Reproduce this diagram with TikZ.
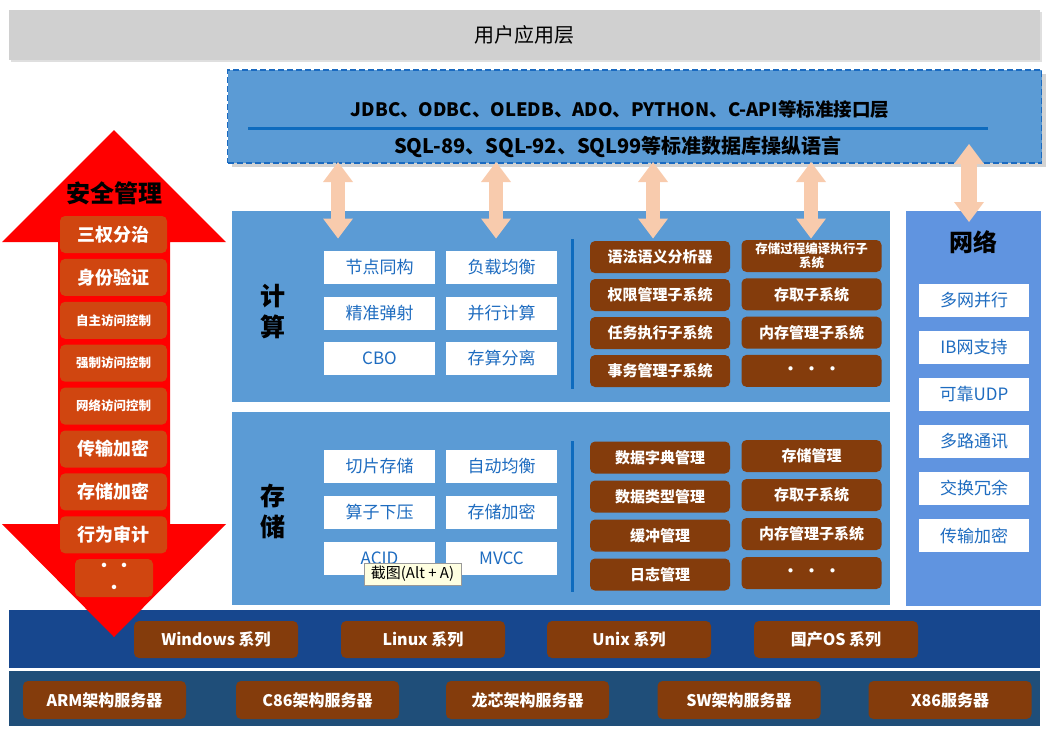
\documentclass[tikz,border=0pt]{standalone}
\usepackage{fontspec}
\setmainfont{Noto Sans CJK SC}
\usetikzlibrary{arrows.meta,shadows}

\definecolor{topgray}{HTML}{D0D0D0}
\definecolor{panelblue}{HTML}{5B9BD5}
\definecolor{netblue}{HTML}{6094E0}
\definecolor{dashblue}{HTML}{1A6AC0}
\definecolor{rulerblue}{HTML}{0E6BBE}
\definecolor{linkblue}{HTML}{1E6CC0}
\definecolor{brownbox}{HTML}{843C0C}
\definecolor{orangebox}{HTML}{D04610}
\definecolor{osblue}{HTML}{17478E}
\definecolor{hwblue}{HTML}{1F4E79}
\definecolor{peach}{HTML}{F8CBAD}
\definecolor{tipyellow}{HTML}{FFFFE1}

\tikzset{
  layer/.style={inner sep=0pt, minimum width=1031pt},
  panel/.style={fill=panelblue, inner sep=0pt, minimum width=658pt},
  apitext/.style={font=\bfseries\fontsize{18.5}{20}\selectfont},
  bigtitle/.style={font=\bfseries\fontsize{25}{31}\selectfont, align=center},
  wbox/.style={fill=white, text=linkblue, inner sep=0pt, minimum width=111pt, minimum height=33pt, font=\fontsize{17}{19}\selectfont},
  bbox/.style={fill=brownbox, text=white, rounded corners=5pt, inner sep=0pt, minimum width=140pt, minimum height=32pt, font=\bfseries\fontsize{15}{17}\selectfont},
  obox/.style={fill=orangebox, text=white, rounded corners=5pt, inner sep=0pt, minimum width=107pt, minimum height=37pt, font=\bfseries\fontsize{18}{20}\selectfont},
  osbox/.style={fill=brownbox, text=white, rounded corners=5pt, inner sep=0pt, minimum width=164pt, minimum height=37pt, font=\bfseries\fontsize{16}{18}\selectfont},
  darr/.style={draw=peach, line width=14pt, arrows={Triangle[width=30pt,length=20pt,line width'=0pt]-Triangle[width=30pt,length=20pt,line width'=0pt]}}
}

\begin{document}
\begin{tikzpicture}[x=1pt,y=-1pt]
\useasboundingbox (0,0) rectangle (1051,736);

% user layer and interface layer
\node[layer, fill=topgray, minimum height=50pt, font=\fontsize{20}{22}\selectfont,
  drop shadow={shadow xshift=2pt,shadow yshift=-2pt,opacity=0.25}] (app) at (524.5,35) {用户应用层};
\node[fill=panelblue, draw=dashblue, line width=1.6pt, dash pattern=on 6pt off 3pt, inner sep=0pt,
  minimum width=814pt, minimum height=93pt,
  drop shadow={shadow xshift=4pt,shadow yshift=-4pt,opacity=0.35}] (api) at (634.5,116.5) {};
\node[apitext] (jdbc) at (620,109) {JDBC、ODBC、OLEDB、ADO、PYTHON、C-API等标准接口层};
\node[apitext, font=\bfseries\fontsize{20}{22}\selectfont] (sql) at (618,147) {SQL-89、SQL-92、SQL99等标准数据库操纵语言};
\draw[rulerblue, line width=3pt] (248,128) -- (988,128);

% panels
\node[panel, minimum height=191pt] (comp) at (561,306.5) {};
\node[panel, minimum height=193pt] (stor) at (561,508.5) {};
\node[fill=netblue, inner sep=0pt, minimum width=135pt, minimum height=395pt] (net) at (973.5,408.5) {};
\node[layer, fill=osblue, minimum height=58pt] (os) at (524.5,639) {};
\node[layer, fill=hwblue, minimum height=55pt] (hw) at (524.5,698.5) {};

% compute
\node[bigtitle] (comptitle) at (273,312) {计\\算};
\foreach \a/\b [count=\i] in {节点同构/负载均衡, 精准弹射/并行计算, CBO/存算分离}{
  \node[wbox] (cwa\i) at (379.5,{267.5+45.5*(\i-1)}) {\a};
  \node[wbox] (cwb\i) at (501.5,{267.5+45.5*(\i-1)}) {\b};
}
\draw[rulerblue, line width=3pt] (572,239) -- (572,389);
\foreach \a [count=\i] in {语法语义分析器, 权限管理子系统, 任务执行子系统, 事务管理子系统}
  \node[bbox] (cba\i) at (660,{257+38*(\i-1)}) {\a};
\node[bbox, align=center, font=\bfseries\fontsize{12.5}{14}\selectfont] (cbb1) at (811.5,256) {存储过程编译执行子\\系统};
\foreach \b [count=\i from 2] in {存取子系统, 内存管理子系统, {·\hspace{6pt}·\hspace{6pt}·}}
  \node[bbox] (cbb\i) at (811.5,{256+38.3*(\i-1)}) {\b};

% storage
\node[bigtitle] (stortitle) at (273,511.5) {存\\储};
\foreach \a/\b [count=\i] in {切片存储/自动均衡, 算子下压/存储加密, ACID/MVCC}{
  \node[wbox] (swa\i) at (379.5,{466+46*(\i-1)}) {\a};
  \node[wbox] (swb\i) at (501.5,{466+46*(\i-1)}) {\b};
}
\draw[rulerblue, line width=3pt] (572,441) -- (572,592);
\foreach \a [count=\i] in {数据字典管理, 数据类型管理, 缓冲管理, 日志管理}
  \node[bbox] (sba\i) at (660,{457.5+39*(\i-1)}) {\a};
\foreach \b [count=\i] in {存储管理, 存取子系统, 内存管理子系统, {·\hspace{6pt}·\hspace{6pt}·}}
  \node[bbox] (sbb\i) at (811.5,{456+39*(\i-1)}) {\b};

% network
\node[font=\bfseries\fontsize{24}{26}\selectfont] (nettitle) at (973,242) {网络};
\foreach \a [count=\i] in {多网并行, IB网支持, 可靠UDP, 多路通讯, 交换冗余, 传输加密}
  \node[wbox, minimum width=110pt] (nw\i) at (974,{300+47.1*(\i-1)}) {\a};

% security arrow
\fill[red] (114,130) -- (226,242) -- (170,242) -- (170,524) -- (226,524) -- (114,637)
  -- (2,524) -- (58,524) -- (58,242) -- (2,242) -- cycle;
\node[font=\bfseries\fontsize{24}{26}\selectfont] (sectitle) at (114,193) {安全管理};
\foreach \a/\s [count=\i] in {三权分治/18, 身份验证/18, 自主访问控制/12.5, 强制访问控制/12.5,
    网络访问控制/12.5, 传输加密/18, 存储加密/18, 行为审计/18}
  \node[obox, font=\bfseries\fontsize{\s}{20}\selectfont] (sec\i) at (113.5,{234.5+42.9*(\i-1)}) {\a};
\node[obox, minimum width=78pt, minimum height=38pt, align=center, font=\bfseries\fontsize{16}{22}\selectfont] (secdots) at (114,578) {·\hspace{4pt}·\\·};

% operating systems
\foreach \a/\x [count=\i] in {Windows 系列/216, Linux 系列/423, Unix 系列/629, 国产OS 系列/836}
  \node[osbox] (os\i) at (\x,639.5) {\a};

% servers
\foreach \a/\x [count=\i] in {ARM架构服务器/104.5, C86架构服务器/317.5, 龙芯架构服务器/527.5, SW架构服务器/739, X86服务器/950}
  \node[osbox, minimum width=163pt, minimum height=38pt] (hw\i) at (\x,700) {\a};

% links between layers
\foreach \x [count=\i] in {338,496,653,811}{
  \coordinate (au\i) at (\x,162);
  \coordinate (ad\i) at (\x,238.5);
  \draw[darr] (au\i) -- (ad\i);
}
\coordinate (nu) at (969,144);
\coordinate (nd) at (969,222);
\draw[darr, line width=16pt] (nu) -- (nd);

% tooltip
\node[fill=tipyellow, draw=gray!80, inner sep=0pt, minimum width=97pt, minimum height=22pt,
  font=\fontsize{15}{17}\selectfont] (tip) at (412.5,574) {截图(Alt + A)};
\end{tikzpicture}
\end{document}
